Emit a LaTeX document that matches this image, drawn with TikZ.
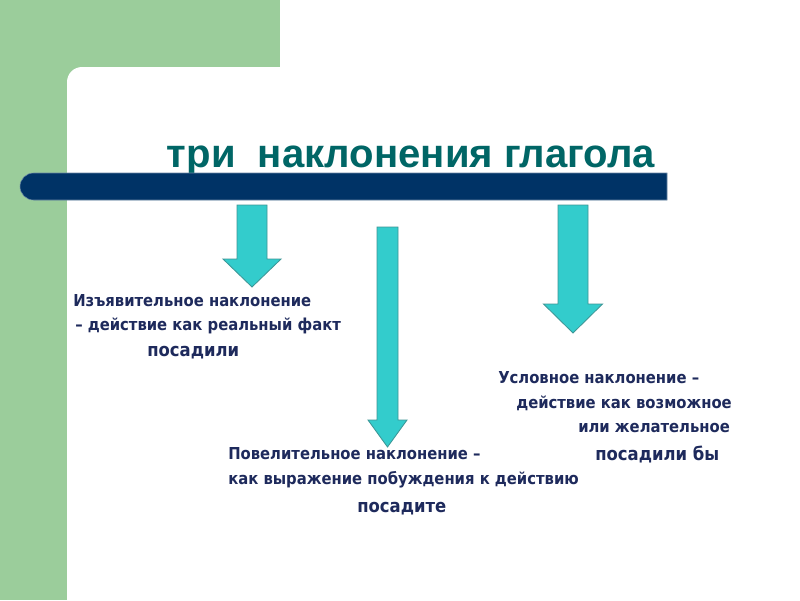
\documentclass[tikz,border=0pt]{standalone}
\usepackage{fontspec}
\setmainfont{DejaVu Sans Condensed}
\newfontfamily\headfont{Liberation Sans}
\usepackage{xcolor}
\usetikzlibrary{positioning}

\definecolor{slidegreen}{RGB}{155,205,155}
\definecolor{barblue}{RGB}{0,51,102}
\definecolor{headteal}{RGB}{0,102,102}
\definecolor{arrowfill}{RGB}{51,204,204}
\definecolor{arrowline}{RGB}{60,150,150}
\definecolor{textnavy}{RGB}{30,42,92}

\begin{document}
\begin{tikzpicture}[
  x=0.025cm, y=-0.025cm,
  arr/.style={fill=arrowfill, draw=arrowline, line width=0.6pt, line join=miter},
  head/.style={font=\headfont\bfseries\fontsize{28.5}{31}\selectfont, text=headteal, anchor=base, inner sep=0pt},
  txt/.style={font=\bfseries\fontsize{11.7}{13}\selectfont, text=textnavy, anchor=base west, inner sep=0pt},
  big/.style={txt, font=\bfseries\fontsize{13}{15}\selectfont}
]
  \useasboundingbox (0,0) rectangle (800,600);
  \clip (0,0) rectangle (800,600);
  \fill[white] (0,0) rectangle (800,600);
  % green frame with rounded inner corner
  \fill[slidegreen] (0,0) rectangle (280,90);
  \fill[slidegreen] (0,0) rectangle (90,600);
  \fill[white, rounded corners=0.375cm] (67,67) rectangle (860,660);

  % title and bar
  \node[head] (title) at (411,167) {три\ \ наклонения глагола};
  \draw[barblue!60!white, fill=barblue, line width=0.4pt]
    (667,173) [rounded corners=0.34cm] -- (20,173) -- (20,200)
    [sharp corners] -- (667,200) -- cycle;

  % arrows: name/centre/top/neck/tip/half shaft/half head
  \foreach \nm/\cx/\tp/\nk/\tip/\sw/\hw in {
    ind/252/205/259/287/15/29,
    imp/387.5/227/420/447/10.5/19.5,
    con/573/205/304/333/15/29.5} {
    \draw[arr] ({\cx-\sw},\tp) -- ({\cx+\sw},\tp) -- ({\cx+\sw},\nk)
      -- ({\cx+\hw},\nk) -- (\cx,\tip) -- ({\cx-\hw},\nk)
      -- ({\cx-\sw},\nk) -- cycle;
    \coordinate (\nm-tip) at (\cx,\tip);
  }

  % indicative
  \node[txt] (ind1) at (73,306) {Изъявительное наклонение};
  \node[txt] (ind2) at (75,330) {– действие как реальный факт};
  \node[big] (ind3) at (147,356) {посадили};

  % conditional
  \node[txt] (con1) at (498,383) {Условное наклонение –};
  \node[txt] (con2) at (516,408) {действие как возможное};
  \node[txt] (con3) at (578,432) {или желательное};
  \node[big] (con4) at (595,460) {посадили бы};

  % imperative
  \node[txt] (imp1) at (228,459) {Повелительное наклонение –};
  \node[txt] (imp2) at (228,484) {как выражение побуждения к действию};
  \node[big] (imp3) at (357,512) {посадите};
\end{tikzpicture}
\end{document}
